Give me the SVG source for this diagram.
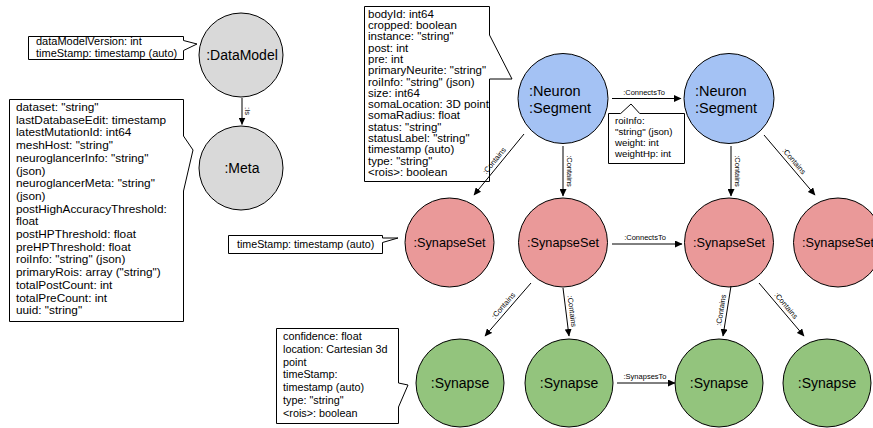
<svg xmlns="http://www.w3.org/2000/svg" width="873" height="428" viewBox="0 0 873 428">
<defs>
<marker id="arr" markerUnits="userSpaceOnUse" markerWidth="8" markerHeight="7" refX="7" refY="3.5" orient="auto"><path d="M0,0 L7.5,3.5 L0,7 z" fill="#000"/></marker>
<style>
.n{stroke:#000;stroke-width:1}
.gray{fill:#d9d9d9}.blue{fill:#a4c2f4}.red{fill:#ea9999}.green{fill:#93c47d}
.lbl{font-family:"Liberation Sans",Arial,sans-serif;font-size:14px;fill:#000}
.co{fill:#fff;stroke:#000;stroke-width:1}
.ct{font-family:"Liberation Sans",Arial,sans-serif;font-size:11.5px;fill:#000}
.el{font-family:"Liberation Sans",Arial,sans-serif;font-size:7.5px;fill:#000;text-anchor:middle}
.e{stroke:#000;stroke-width:1;fill:none;marker-end:url(#arr)}
</style>
</defs>
<rect width="873" height="428" fill="#fff"/>

<g id="dataModelNote">
<path class="co" d="M28.5,36.5 H183.5 V40.5 L197,44 L183.5,50.5 V59.5 H28.5 Z"/>
<text class="ct" style="font-size:11px" x="36" y="45">dataModelVersion: int</text>
<text class="ct" style="font-size:11px" x="36" y="56.5">timeStamp: timestamp (auto)</text>
</g>

<g id="metaNote">
<path class="co" d="M9.5,99.5 H183.5 V136 L193,150 L183.5,191 V321.5 H9.5 Z"/>
<g class="ct" style="font-size:11.8px">
<text x="16" y="111">dataset: "string"</text>
<text x="16" y="123.7">lastDatabaseEdit: timestamp</text>
<text x="16" y="136.4">latestMutationId: int64</text>
<text x="16" y="149.1">meshHost: "string"</text>
<text x="16" y="161.8">neuroglancerInfo: "string"</text>
<text x="16" y="174.5">(json)</text>
<text x="16" y="187.2">neuroglancerMeta: "string"</text>
<text x="16" y="199.9">(json)</text>
<text x="16" y="212.6">postHighAccuracyThreshold:</text>
<text x="16" y="225.3">float</text>
<text x="16" y="238">postHPThreshold: float</text>
<text x="16" y="250.7">preHPThreshold: float</text>
<text x="16" y="263.4">roiInfo: "string" (json)</text>
<text x="16" y="276.1">primaryRois: array ("string")</text>
<text x="16" y="288.8">totalPostCount: int</text>
<text x="16" y="301.5">totalPreCount: int</text>
<text x="16" y="314.2">uuid: "string"</text>
</g>
</g>

<g id="neuronNote">
<path class="co" d="M364.5,6.5 H489.5 V35 L512,79 L489.5,79 V181.5 H364.5 Z"/>
<text class="ct" x="368" y="17.7">bodyId: int64</text>
<text class="ct" x="368" y="29">cropped: boolean</text>
<text class="ct" x="368" y="40.3">instance: "string"</text>
<text class="ct" x="368" y="51.6">post: int</text>
<text class="ct" x="368" y="62.9">pre: int</text>
<text class="ct" x="368" y="74.2">primaryNeurite: "string"</text>
<text class="ct" x="368" y="85.5">roiInfo: "string" (json)</text>
<text class="ct" x="368" y="96.8">size: int64</text>
<text class="ct" x="368" y="108.1">somaLocation: 3D point</text>
<text class="ct" x="368" y="119.4">somaRadius: float</text>
<text class="ct" x="368" y="130.7">status: "string"</text>
<text class="ct" x="368" y="142">statusLabel: "string"</text>
<text class="ct" x="368" y="153.3">timestamp (auto)</text>
<text class="ct" x="368" y="164.6">type: "string"</text>
<text class="ct" x="368" y="175.9">&lt;rois&gt;: boolean</text>
</g>

<g id="connectsNote">
<path class="co" d="M608.5,113.5 H620.7 L631,104 L639.7,113.5 H684.5 V163.5 H608.5 Z"/>
<text class="ct" style="font-size:9.7px" x="615" y="124">roiInfo:</text>
<text class="ct" style="font-size:9.7px" x="615" y="135">"string" (json)</text>
<text class="ct" style="font-size:9.7px" x="615" y="146">weight: int</text>
<text class="ct" style="font-size:9.7px" x="615" y="157">weightHp: int</text>
</g>

<g id="synapseSetNote">
<path class="co" d="M228.5,235.5 H382.5 V238 L398,238 L382.5,242.5 V253.5 H228.5 Z"/>
<text class="ct" style="font-size:10.7px" x="237" y="247.5">timeStamp: timestamp (auto)</text>
</g>

<g id="synapseNote">
<path class="co" d="M276.5,328.5 H398.5 V383 L408,385 L398.5,407 V423.5 H276.5 Z"/>
<text class="ct" style="font-size:10.8px" x="283" y="340">confidence: float</text>
<text class="ct" style="font-size:10.8px" x="283" y="352.8">location: Cartesian 3d</text>
<text class="ct" style="font-size:10.8px" x="283" y="365.6">point</text>
<text class="ct" style="font-size:10.8px" x="283" y="378.4">timeStamp:</text>
<text class="ct" style="font-size:10.8px" x="283" y="391.2">timestamp (auto)</text>
<text class="ct" style="font-size:10.8px" x="283" y="404">type: "string"</text>
<text class="ct" style="font-size:10.8px" x="283" y="416.8">&lt;rois&gt;: boolean</text>
</g>

<g id="dataModel"><circle class="n gray" cx="241" cy="55" r="42"/><text class="lbl" x="242" y="60" text-anchor="middle">:DataModel</text></g>
<g id="meta"><circle class="n gray" cx="241" cy="168" r="42"/><text class="lbl" x="242" y="173" text-anchor="middle">:Meta</text></g>
<g id="neuron1"><circle class="n blue" cx="563" cy="98.5" r="45"/><text class="lbl" style="font-size:14.5px" x="529" y="96">:Neuron</text><text class="lbl" style="font-size:14.5px" x="529" y="113">:Segment</text></g>
<g id="neuron2"><circle class="n blue" cx="729" cy="98.5" r="45"/><text class="lbl" style="font-size:14.5px" x="695" y="96">:Neuron</text><text class="lbl" style="font-size:14.5px" x="695" y="113">:Segment</text></g>
<g id="synapseSet1"><circle class="n red" cx="449.5" cy="242.5" r="44.5"/><text class="lbl" style="font-size:12.7px" x="449.5" y="247" text-anchor="middle">:SynapseSet</text></g>
<g id="synapseSet2"><circle class="n red" cx="563" cy="242.5" r="44.5"/><text class="lbl" style="font-size:12.7px" x="563" y="247" text-anchor="middle">:SynapseSet</text></g>
<g id="synapseSet3"><circle class="n red" cx="729" cy="242.5" r="44.5"/><text class="lbl" style="font-size:12.7px" x="729" y="247" text-anchor="middle">:SynapseSet</text></g>
<g id="synapseSet4"><circle class="n red" cx="838" cy="242.5" r="44.5"/><text class="lbl" style="font-size:12.7px" x="838" y="247" text-anchor="middle">:SynapseSet</text></g>
<g id="synapse1"><circle class="n green" cx="460" cy="383" r="44"/><text class="lbl" x="460" y="388" text-anchor="middle">:Synapse</text></g>
<g id="synapse2"><circle class="n green" cx="569" cy="383" r="44"/><text class="lbl" x="569" y="388" text-anchor="middle">:Synapse</text></g>
<g id="synapse3"><circle class="n green" cx="719" cy="383" r="44"/><text class="lbl" x="719" y="388" text-anchor="middle">:Synapse</text></g>
<g id="synapse4"><circle class="n green" cx="827" cy="383" r="44"/><text class="lbl" x="827" y="388" text-anchor="middle">:Synapse</text></g>

<g id="connectors">
<line class="e" x1="242" y1="98" x2="242" y2="124.5"/>
<text class="el" transform="translate(242,111) rotate(90)" y="-3">:Is</text>
<line class="e" x1="612" y1="98.5" x2="681" y2="98.5"/>
<text class="el" transform="translate(644,98.5)" y="-4">:ConnectsTo</text>
<line class="e" x1="524" y1="134" x2="474" y2="195"/>
<text class="el" transform="translate(499,164.5) rotate(-50.7)" y="-3.5">:Contains</text>
<line class="e" x1="563" y1="146" x2="563" y2="196"/>
<text class="el" transform="translate(563,171) rotate(90)" y="-3.5">:Contains</text>
<line class="e" x1="731" y1="146" x2="731" y2="196"/>
<text class="el" transform="translate(731,171) rotate(90)" y="-3.5">:Contains</text>
<line class="e" x1="764" y1="135" x2="815" y2="195"/>
<text class="el" transform="translate(789.5,165) rotate(49.6)" y="-3.5">:Contains</text>
<line class="e" x1="612" y1="244" x2="682" y2="244"/>
<text class="el" transform="translate(645,244)" y="-4.5">:ConnectsTo</text>
<line class="e" x1="531" y1="283" x2="485" y2="336"/>
<text class="el" transform="translate(508,309.5) rotate(-49)" y="-3.5">:Contains</text>
<line class="e" x1="563" y1="288" x2="569" y2="336"/>
<text class="el" transform="translate(566,312) rotate(82.9)" y="-3.5">:Contains</text>
<line class="e" x1="731" y1="286" x2="723" y2="336"/>
<text class="el" transform="translate(727,311) rotate(-80.9)" y="-3.5">:Contains</text>
<line class="e" x1="759" y1="283" x2="804" y2="336"/>
<text class="el" transform="translate(781.5,309.5) rotate(49.7)" y="-3.5">:Contains</text>
<line class="e" x1="617" y1="383" x2="675" y2="383"/>
<text class="el" transform="translate(645,383)" y="-4.5">:SynapsesTo</text>
</g>
</svg>
